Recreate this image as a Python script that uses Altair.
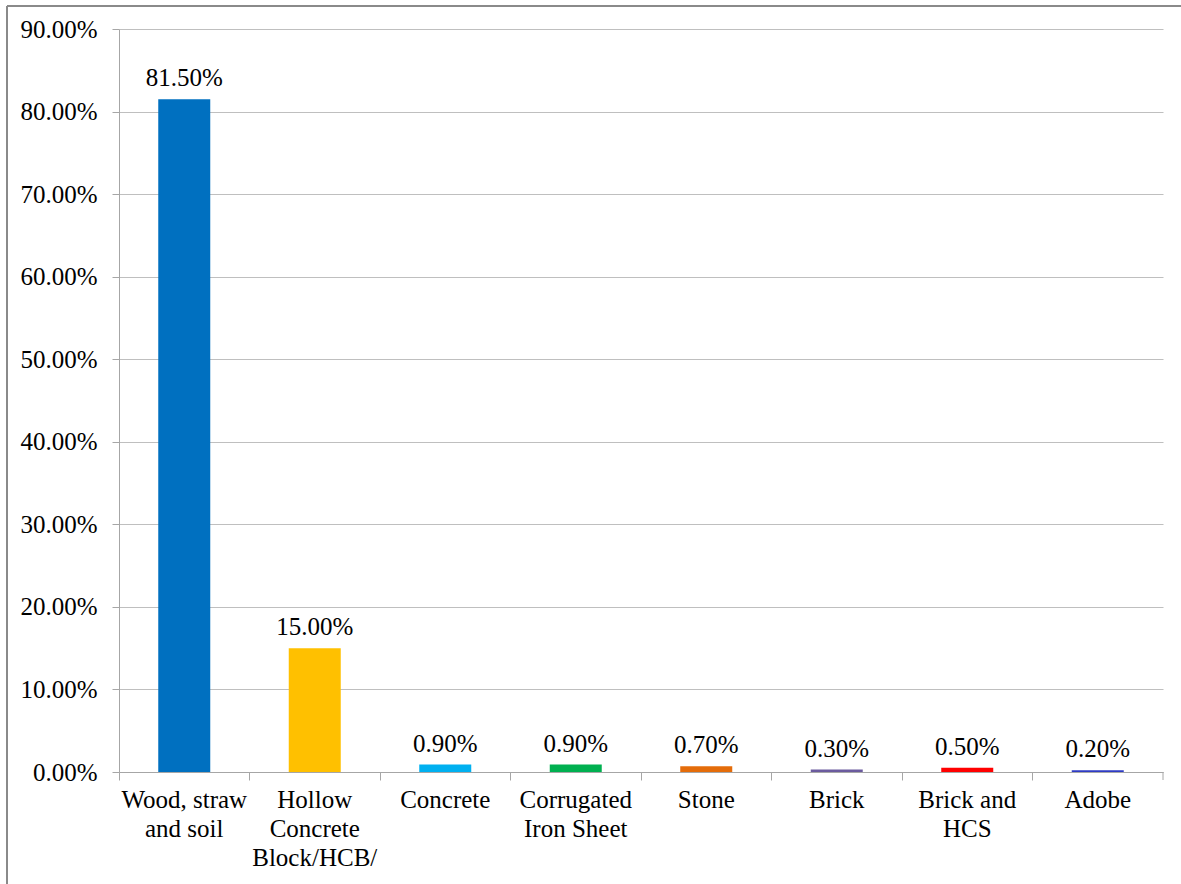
import altair as alt
import pandas as pd

# Wall material of housing units, share of respondents (%)
categories = [
    "Wood, straw and soil",
    "Hollow Concrete Block/HCB/",
    "Concrete",
    "Corrugated Iron Sheet",
    "Stone",
    "Brick",
    "Brick and HCS",
    "Adobe",
]
# axis text, wrapped over several lines
wrapped = [
    "Wood, straw\nand soil",
    "Hollow\nConcrete\nBlock/HCB/",
    "Concrete",
    "Corrugated\nIron Sheet",
    "Stone",
    "Brick",
    "Brick and\nHCS",
    "Adobe",
]
shares = [81.5, 15.0, 0.9, 0.9, 0.7, 0.3, 0.5, 0.2]
colors = ["#0070C0", "#FFC000", "#00B0F0", "#00B050", "#E46C0A",
          "#6B5B9E", "#FF0000", "#2E3BC4"]

W, H = 1044, 743
PAD_L, PAD_T = 119, 29
FONT = "Times New Roman, Liberation Serif, serif"

df = pd.DataFrame({
    "material": categories,
    "share": shares,
    "label": [f"{v:.2f}%" for v in shares],
})

label_map = "{" + ", ".join(f"{c!r}: {w!r}" for c, w in zip(categories, wrapped)) + "}"
label_map = label_map.replace("'", '"').replace("\n", "\\n")

x_enc = alt.X(
    "material:N",
    sort=categories,
    title=None,
    scale=alt.Scale(paddingInner=0, paddingOuter=0),
    axis=alt.Axis(
        labelAngle=0,
        labelFont=FONT,
        labelFontSize=25,
        labelColor="#000000",
        labelLineHeight=29,
        labelPadding=7,
        labelBaseline="top",
        labelExpr=f"split({label_map}[datum.value], '\\n')",
        bandPosition=0,
        tickSize=8,
        tickColor="#A6A6A6",
        domainColor="#A6A6A6",
        grid=False,
    ),
)

y_enc = alt.Y(
    "share:Q",
    title=None,
    scale=alt.Scale(domain=[0, 90], nice=False),
    axis=alt.Axis(
        values=list(range(0, 91, 10)),
        labelExpr="format(datum.value, '.2f') + '%'",
        labelFont=FONT,
        labelFontSize=25,
        labelColor="#000000",
        labelPadding=15,
        tickSize=7,
        tickColor="#A6A6A6",
        domainColor="#A6A6A6",
        gridColor="#BFBFBF",
        gridWidth=1,
    ),
)

bars = alt.Chart(df).mark_bar(size=52).encode(
    x=x_enc,
    y=y_enc,
    color=alt.Color("material:N", scale=alt.Scale(domain=categories, range=colors), legend=None),
)

labels = alt.Chart(df).mark_text(
    font=FONT, fontSize=25, color="#000000", baseline="alphabetic", dy=-13
).encode(
    x=alt.X("material:N", sort=categories),
    y="share:Q",
    text="label:N",
)

one = pd.DataFrame({"k": [0]})

# closing tick at the right end of the category axis
end_tick = alt.Chart(one).mark_rule(color="#A6A6A6", strokeWidth=1).encode(
    x=alt.value(W), y=alt.value(H), y2=alt.value(H + 8)
)

# outer frame (top and left edges)
frame_top = alt.Chart(one).mark_rule(color="#8A8A8A", strokeWidth=2).encode(
    x=alt.value(7 - PAD_L), x2=alt.value(1181 - PAD_L + 5), y=alt.value(6 - PAD_T)
)
frame_left = alt.Chart(one).mark_rule(color="#8A8A8A", strokeWidth=2).encode(
    x=alt.value(7 - PAD_L), y=alt.value(6 - PAD_T), y2=alt.value(884)
)

chart = alt.layer(bars, labels, end_tick, frame_top, frame_left).properties(
    width=W,
    height=H,
    autosize=alt.AutoSizeParams(type="none"),
    padding={"left": PAD_L, "top": PAD_T, "right": 1181 - PAD_L - W, "bottom": 884 - PAD_T - H},
    background="#FFFFFF",
).configure_view(stroke=None).resolve_scale(x="shared")

chart.save("out.html", embed_options={"renderer": "svg", "actions": False})
